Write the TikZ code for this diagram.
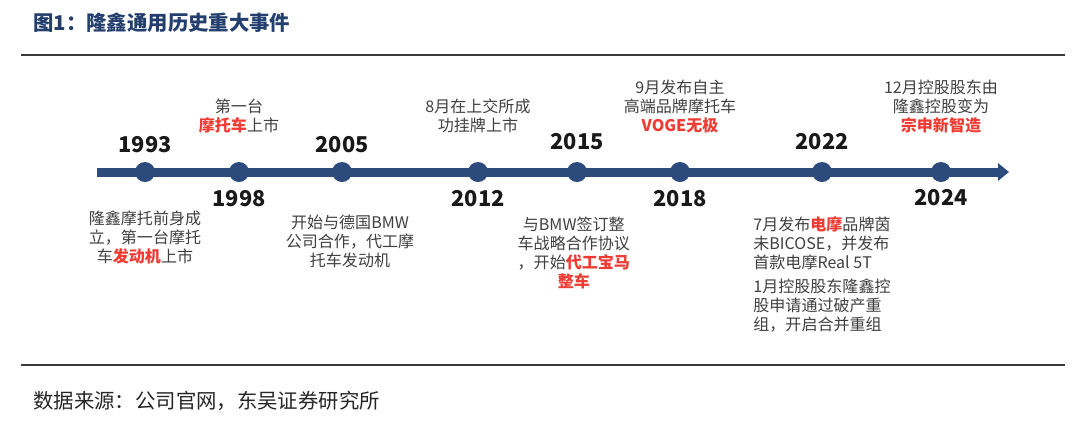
\documentclass[tikz,border=0pt]{standalone}
\usepackage{fontspec}
\setmainfont{Noto Sans CJK SC}
\usepackage{xcolor}
\usepackage{tikz}
\usetikzlibrary{arrows.meta,positioning}
\definecolor{navy}{HTML}{243F6E}
\definecolor{lineblue}{HTML}{2C4A7C}
\definecolor{hired}{HTML}{EE3B33}
\definecolor{bodygray}{HTML}{404040}
\definecolor{rulegray}{HTML}{3A3A3A}
\newcommand{\redhi}[1]{\textcolor{hired}{\bfseries #1}}
\tikzset{
  yeardot/.style={circle, fill=lineblue, inner sep=0pt, minimum size=0.5cm},
  yearlbl/.style={inner sep=0pt, font=\fontsize{15.5}{18}\selectfont\bfseries, text=black!90},
  eventtxt/.style={inner sep=0pt, align=center, text=bodygray,
    font=\fontsize{11.4}{13.5}\selectfont},
  timeline/.style={-{Triangle[length=0.275cm, width=0.43cm]}, line width=0.225cm, color=lineblue},
  hrule/.style={line width=0.05cm, color=rulegray},
}
\begin{document}
\begin{tikzpicture}[x=0.025cm, y=-0.025cm]
  \useasboundingbox[fill=white] (0,0) rectangle (1080,429);

  % title and source
  \node[anchor=west, inner sep=0pt, text=navy, font=\fontsize{14.5}{17}\selectfont\bfseries] (title) at (33,23) {图1：隆鑫通用历史重大事件};
  \coordinate (toprl) at (21,55);
  \coordinate (toprr) at (1065,55);
  \draw[hrule] (toprl) -- (toprr);
  \coordinate (botrl) at (21,365);
  \coordinate (botrr) at (1065,365);
  \draw[hrule] (botrl) -- (botrr);
  \node[anchor=west, inner sep=0pt, text=black!85, font=\fontsize{14.5}{17}\selectfont] (source) at (33,401) {数据来源：公司官网，东吴证券研究所};

  % time axis
  \coordinate (tstart) at (97,172);
  \coordinate (tend) at (1009,172);
  \draw[timeline] (tstart) -- (tend);

  \node[yeardot] (d1993) at (145,172) {};
  \node[yeardot] (d1998) at (239,172) {};
  \node[yeardot] (d2005) at (342,172) {};
  \node[yeardot] (d2012) at (478,172) {};
  \node[yeardot] (d2015) at (577,172) {};
  \node[yeardot] (d2018) at (680,172) {};
  \node[yeardot] (d2022) at (822,172) {};
  \node[yeardot] (d2024) at (941,172) {};

  % years
  \node[yearlbl, above=0.22cm of d1993] (y1993) {1993};
  \node[yearlbl, below=0.2cm of d1998] (y1998) {1998};
  \node[yearlbl, above=0.22cm of d2005] (y2005) {2005};
  \node[yearlbl, below=0.2cm of d2012] (y2012) {2012};
  \node[yearlbl, above=0.3cm of d2015] (y2015) {2015};
  \node[yearlbl, below=0.2cm of d2018] (y2018) {2018};
  \node[yearlbl, above=0.28cm of d2022] (y2022) {2022};
  \node[yearlbl, below=0.18cm of d2024] (y2024) {2024};

  % events
  \node[eventtxt, below=0.72cm of d1993] (e1993) {隆鑫摩托前身成\\立，第一台摩托\\车\redhi{发动机}上市};
  \node[eventtxt, above=0.72cm of d1998] (e1998) {第一台\\\redhi{摩托车}上市};
  \node[eventtxt, below=0.82cm of d2005, xshift=0.2cm] (e2005) {开始与德国BMW\\公司合作，代工摩\\托车发动机};
  \node[eventtxt, above=0.72cm of d2012] (e2012) {8月在上交所成\\功挂牌上市};
  \node[eventtxt, below=0.85cm of d2015, xshift=-0.08cm] (e2015) {与BMW签订整\\车战略合作协议\\，开始\redhi{代工宝马}\\\redhi{整车}};
  \node[eventtxt, above=0.72cm of d2018] (e2018) {9月发布自主\\高端品牌摩托车\\\redhi{VOGE无极}};
  \node[eventtxt, align=left, below=0.85cm of d2022] (e2022a) {7月发布\redhi{电摩}品牌茵\\未BICOSE，并发布\\首款电摩Real 5T};
  \node[eventtxt, align=left, below=0.22cm of e2022a.south west, anchor=north west] (e2022b) {1月控股股东隆鑫控\\股申请通过破产重\\组，开启合并重组};
  \node[eventtxt, above=0.72cm of d2024] (e2024) {12月控股股东由\\隆鑫控股变为\\\redhi{宗申新智造}};
\end{tikzpicture}
\end{document}
